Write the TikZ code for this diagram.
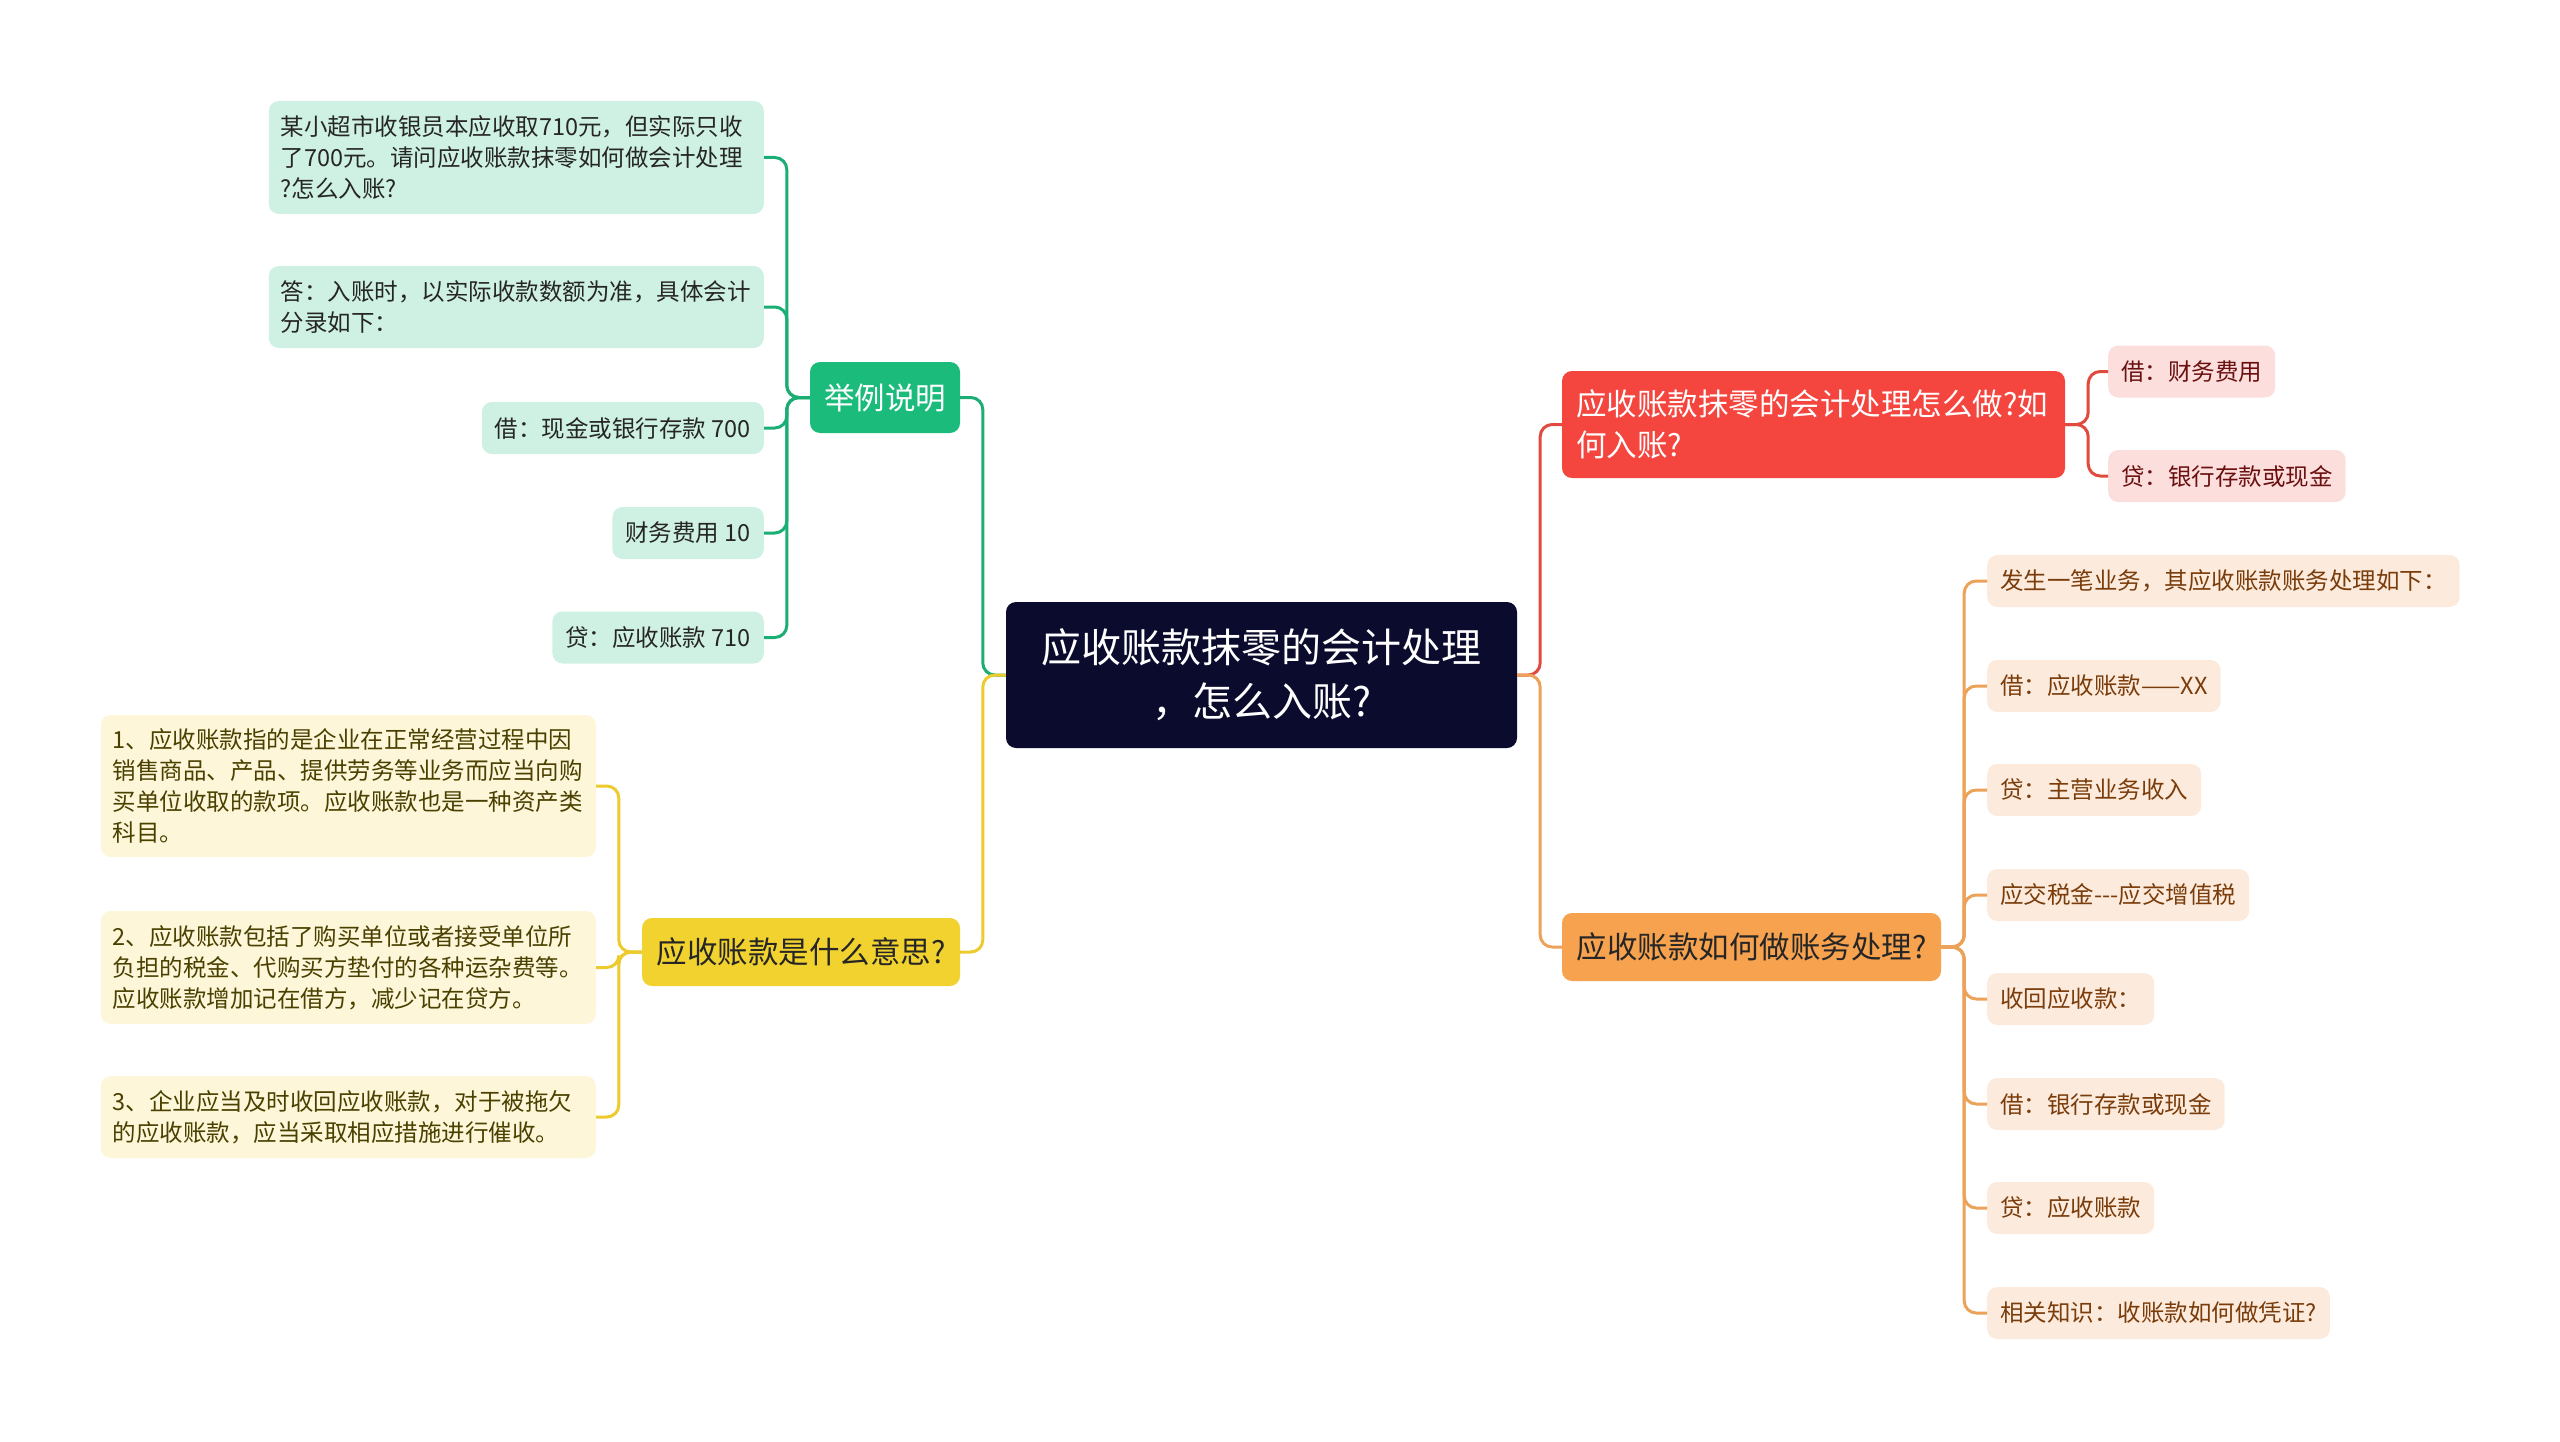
\documentclass[tikz,border=0pt]{standalone}
\usepackage{fontspec}
\setmainfont{Noto Sans CJK SC}
\usepackage{tikz}
\usetikzlibrary{positioning}

\definecolor{rootfill}{HTML}{0B0B2E}
\definecolor{greenfill}{HTML}{1BBB7C}
\definecolor{greenleaf}{HTML}{CFF1E3}
\definecolor{greenline}{HTML}{1AAE74}
\definecolor{yellowfill}{HTML}{F2D22E}
\definecolor{yellowleaf}{HTML}{FDF6D9}
\definecolor{yellowline}{HTML}{EDCB2E}
\definecolor{yellowtext}{HTML}{4A4000}
\definecolor{redfill}{HTML}{F5453F}
\definecolor{redleaf}{HTML}{FCDFDD}
\definecolor{redline}{HTML}{E04A3F}
\definecolor{redtext}{HTML}{6B1010}
\definecolor{orangefill}{HTML}{F6A24F}
\definecolor{orangeleaf}{HTML}{FCEBDC}
\definecolor{orangeline}{HTML}{EDA25A}
\definecolor{orangetext}{HTML}{7A3C0A}

\tikzset{
  box/.style={rounded corners=10pt, inner xsep=13pt, inner ysep=0pt, align=left},
  rootbox/.style={box, fill=rootfill, text=white, minimum width=511pt, minimum height=146pt,
    text width=470pt, align=center, font=\fontsize{40}{54}\selectfont},
  branchbox/.style={box, inner xsep=14pt, font=\fontsize{30.5}{41}\selectfont},
  leafbox/.style={box, minimum height=52pt, font=\fontsize{23.5}{31}\selectfont},
  wideleaf/.style={leafbox, inner xsep=12pt, text width=471pt},
  link/.style={line width=3pt, rounded corners=12pt},
}

\begin{document}
\begin{tikzpicture}[x=1pt, y=-1pt]
\useasboundingbox (0,0) rectangle (2560,1442);

% Nodo centrale
\node[rootbox] (root) at (1261.5,675) {应收账款抹零的会计处理\\，怎么入账?};

% Rami principali
\node[branchbox, fill=greenfill, text=white, minimum width=150pt, minimum height=71pt] (esempio) at (885,397.5) {举例说明};
\node[branchbox, fill=yellowfill, text=black!85, minimum width=318pt, minimum height=68pt] (significato) at (801,952) {应收账款是什么意思?};
\node[branchbox, fill=redfill, text=white, minimum height=107pt, text width=475pt] (trattamento) at (1813.5,424.5) {应收账款抹零的会计处理怎么做?如\\何入账?};
\node[branchbox, fill=orangefill, text=black!85, minimum width=379pt, minimum height=68pt] (contabile) at (1751.5,947) {应收账款如何做账务处理?};

% Foglie verdi
\node[wideleaf, fill=greenleaf, text=black!85, minimum height=113pt, anchor=east] (es1) at (764,157.5) {某小超市收银员本应收取710元，但实际只收\\了700元。请问应收账款抹零如何做会计处理\\?怎么入账?};
\node[wideleaf, fill=greenleaf, text=black!85, minimum height=82pt, anchor=east] (es2) at (764,307) {答：入账时，以实际收款数额为准，具体会计\\分录如下：};
\node[leafbox, fill=greenleaf, text=black!85, anchor=east] (es3) at (764,428) {借：现金或银行存款 700};
\node[leafbox, fill=greenleaf, text=black!85, anchor=east] (es4) at (764,533) {财务费用 10};
\node[leafbox, fill=greenleaf, text=black!85, anchor=east] (es5) at (764,637.5) {贷：应收账款 710};

% Foglie gialle
\node[wideleaf, fill=yellowleaf, text=yellowtext, minimum height=142pt, anchor=east] (sig1) at (596,786) {1、应收账款指的是企业在正常经营过程中因\\销售商品、产品、提供劳务等业务而应当向购\\买单位收取的款项。应收账款也是一种资产类\\科目。};
\node[wideleaf, fill=yellowleaf, text=yellowtext, minimum height=113pt, anchor=east] (sig2) at (596,967.5) {2、应收账款包括了购买单位或者接受单位所\\负担的税金、代购买方垫付的各种运杂费等。\\应收账款增加记在借方，减少记在贷方。};
\node[wideleaf, fill=yellowleaf, text=yellowtext, minimum height=82pt, anchor=east] (sig3) at (596,1117) {3、企业应当及时收回应收账款，对于被拖欠\\的应收账款，应当采取相应措施进行催收。};

% Foglie rosse
\node[leafbox, fill=redleaf, text=redtext, anchor=west] (tr1) at (2108,371.5) {借：财务费用};
\node[leafbox, fill=redleaf, text=redtext, anchor=west] (tr2) at (2108,476) {贷：银行存款或现金};

% Foglie arancioni
\node[leafbox, fill=orangeleaf, text=orangetext, anchor=west] (co1) at (1987,581) {发生一笔业务，其应收账款账务处理如下：};
\node[leafbox, fill=orangeleaf, text=orangetext, anchor=west] (co2) at (1987,686) {借：应收账款——XX};
\node[leafbox, fill=orangeleaf, text=orangetext, anchor=west] (co3) at (1987,790) {贷：主营业务收入};
\node[leafbox, fill=orangeleaf, text=orangetext, anchor=west] (co4) at (1987,895) {应交税金-\kern0pt-\kern0pt-应交增值税};
\node[leafbox, fill=orangeleaf, text=orangetext, anchor=west] (co5) at (1987,999) {收回应收款：};
\node[leafbox, fill=orangeleaf, text=orangetext, anchor=west] (co6) at (1987,1104) {借：银行存款或现金};
\node[leafbox, fill=orangeleaf, text=orangetext, anchor=west] (co7) at (1987,1208) {贷：应收账款};
\node[leafbox, fill=orangeleaf, text=orangetext, anchor=west] (co8) at (1987,1313) {相关知识：收账款如何做凭证?};

% Collegamenti dal centro
\draw[link, greenline] (root.west) -- ++(-23,0) |- (esempio.east);
\draw[link, yellowline] (root.west) -- ++(-23,0) |- (significato.east);
\draw[link, redline] (root.east) -- ++(23,0) |- (trattamento.west);
\draw[link, orangeline] (root.east) -- ++(23,0) |- (contabile.west);

% Collegamenti alle foglie
\foreach \leaf in {es1,es2,es3,es4,es5}
  \draw[link, greenline] (esempio.west) -- ++(-23,0) |- (\leaf.east);
\foreach \leaf in {sig1,sig2,sig3}
  \draw[link, yellowline] (significato.west) -- ++(-23,0) |- (\leaf.east);
\foreach \leaf in {tr1,tr2}
  \draw[link, redline] (trattamento.east) -- ++(23,0) |- (\leaf.west);
\foreach \leaf in {co1,co2,co3,co4,co5,co6,co7,co8}
  \draw[link, orangeline] (contabile.east) -- ++(23,0) |- (\leaf.west);
\end{tikzpicture}
\end{document}
